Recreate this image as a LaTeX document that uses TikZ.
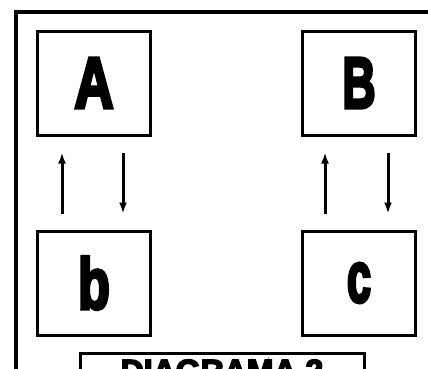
\documentclass[tikz,border=0pt]{standalone}
\usepackage{fontspec}
\setmainfont{Liberation Sans}
\newfontfamily\blackfont[FakeBold=5]{Liberation Sans Bold}
\usetikzlibrary{positioning, arrows.meta}

\begin{document}
\begin{tikzpicture}[x=1pt, y=-1pt, node distance=93pt, >={Latex[length=11pt,width=8pt]},
    letterbox/.style={draw, line width=3pt, minimum width=113pt, minimum height=104pt, inner sep=0pt, font=\fontsize{72}{72}\blackfont},
    link/.style={->, line width=3pt, shorten <=16pt, shorten >=16pt}]
    \clip (0,0) rectangle (428,368);
    \draw[line width=3.5pt] (16,12) rectangle (460,420);
    \node[letterbox] (A) at (94,83) {\scalebox{0.75}[1]{A}};
    \node[letterbox, right=149pt of A] (B) {\scalebox{0.64}[1]{B}};
    \node[letterbox, below=of A] (b) {\scalebox{0.72}[1]{b}};
    \node[letterbox, below=of B] (c) {\scalebox{0.6}[1]{c}};
    \node[draw, line width=3pt, anchor=north, minimum width=284pt, minimum height=35pt, font=\fontsize{32}{32}\blackfont] (title) at (222,352) {DIAGRAMA 2};
    % A <-> b
    \draw[link] ([xshift=-32pt]b.north) -- ([xshift=-32pt]A.south);
    \draw[link] ([xshift=29pt]A.south) -- ([xshift=29pt]b.north);
    % B <-> c
    \draw[link] ([xshift=-34pt]c.north) -- ([xshift=-34pt]B.south);
    \draw[link] ([xshift=29pt]B.south) -- ([xshift=29pt]c.north);
\end{tikzpicture}
\end{document}
